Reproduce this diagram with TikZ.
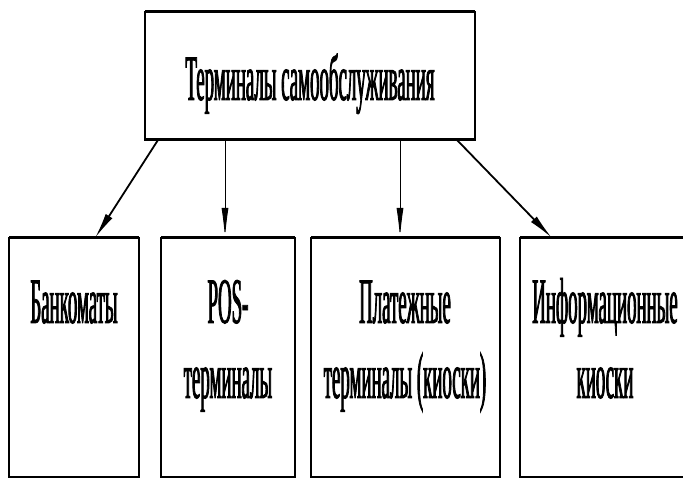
\documentclass[tikz,border=0pt]{standalone}
\usepackage{fontspec}
\setmainfont{Liberation Serif}[FakeStretch=0.29,FakeBold=1.2]
\usetikzlibrary{arrows.meta}
\begin{document}
\begin{tikzpicture}[x=1pt,y=-1pt,
  box/.style={draw, line width=1.2pt, inner sep=0pt, outer sep=0pt},
  txt/.style={anchor=base, inner sep=0pt, font=\fontsize{65}{75}\selectfont},
  edge/.style={line width=3pt},
  arr/.style={-{Latex[length=30pt,width=7pt]}, line width=0.9pt},
  darr/.style={-{Latex[length=26pt,width=8pt]}, line width=1.8pt}]
\useasboundingbox (0,0) rectangle (683,478);
\clip (0,0) rectangle (683,478);
% top box
\node[box, minimum width=330pt, minimum height=128pt] (top) at (310,76) {};
\draw[edge] (top.north west) -- (top.north east);
\draw[edge] (top.south west) -- (top.south east);
\node[txt] (ttop) at (310,100) {Терминалы самообслуживания};
% bottom boxes
\node[box, minimum width=130pt, minimum height=239pt] (b1) at (74,357.5) {};
\node[box, minimum width=134pt, minimum height=239pt] (b2) at (228,357.5) {};
\node[box, minimum width=189pt, minimum height=239pt] (b3) at (405.5,357.5) {};
\node[box, minimum width=172pt, minimum height=239pt] (b4) at (606,357.5) {};
\foreach \b in {b1,b2,b3,b4}{\draw[edge] (\b.north west) -- (\b.north east);}
% texts
\node[txt] (t1) at (74,323) {Банкоматы};
\node[txt] (t2a) at (228,323) {POS-};
\node[txt] (t2b) at (228,398) {терминалы};
\node[txt] (t3a) at (405,323) {Платежные};
\node[txt] (t3b) at (405,398) {терминалы (киоски)};
\node[txt] (t4a) at (605,323) {Информационные};
\node[txt] (t4b) at (605,398) {киоски};
% connectors
\draw[darr] ([xshift=13pt]top.south west) -- ([xshift=86pt]b1.north west);
\draw[arr] ([xshift=80pt]top.south west) -- ([xshift=64pt]b2.north west);
\draw[arr] ([xshift=255pt]top.south west) -- ([xshift=89pt]b3.north west);
\draw[darr] ([xshift=312pt]top.south west) -- ([xshift=32pt]b4.north west);
\end{tikzpicture}
\end{document}
